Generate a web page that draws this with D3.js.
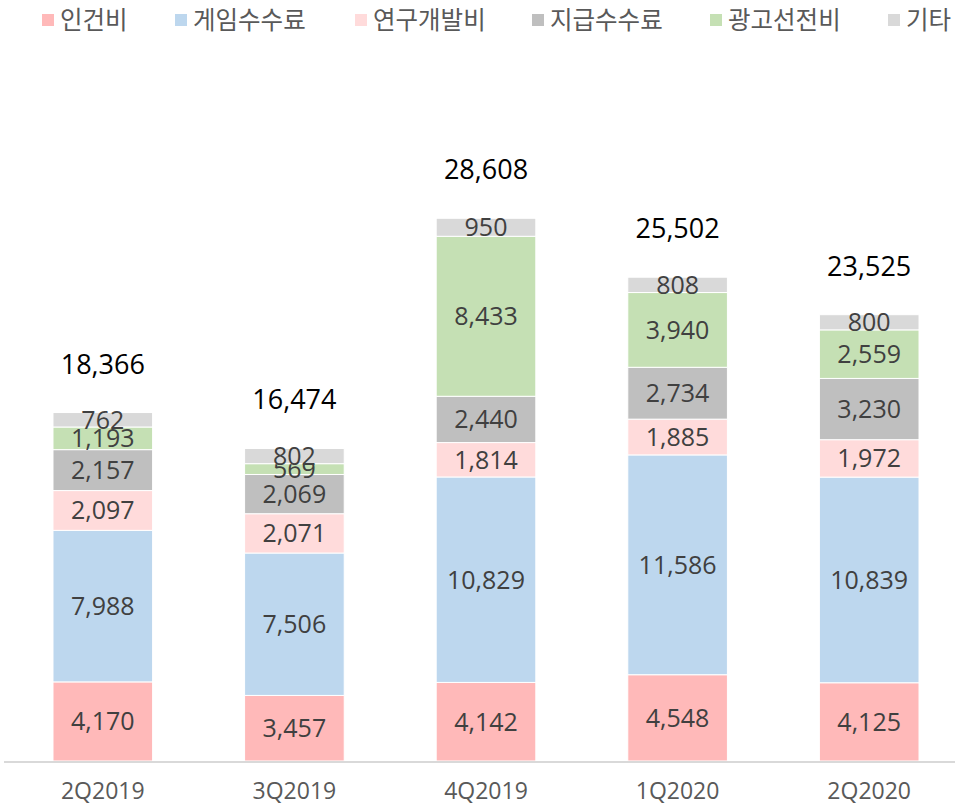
<!DOCTYPE html>
<html>
<head>
<meta charset="utf-8">
<script src="https://cdn.jsdelivr.net/npm/d3@7"></script>
<style>
  body { margin: 0; background: #fff; }
  svg text { font-family: "Open Sans", "Noto Sans CJK KR", sans-serif; }
</style>
</head>
<body>
<div id="chart"></div>
<script>
var quarters = ["2Q2019", "3Q2019", "4Q2019", "1Q2020", "2Q2020"];
var seriesNames = ["인건비", "게임수수료", "연구개발비", "지급수수료", "광고선전비", "기타"];
var labor = [4170, 3457, 4142, 4548, 4125];
var gameFees = [7988, 7506, 10829, 11586, 10839];
var rnd = [2097, 2071, 1814, 1885, 1972];
var payFees = [2157, 2069, 2440, 2734, 3230];
var ads = [1193, 569, 8433, 3940, 2559];
var others = [762, 802, 950, 808, 800];
var totals = [18366, 16474, 28608, 25502, 23525];

var colors = ["#FFB9B9", "#BDD7EE", "#FFDBDB", "#BFBFBF", "#C5E0B4", "#D9D9D9"];
var seriesValues = [labor, gameFees, rnd, payFees, ads, others];

var width = 955, height = 807;
var svg = d3.select("#chart").append("svg")
  .attr("width", width)
  .attr("height", height);

var table = quarters.map(function(q, i) {
  var row = {quarter: q};
  seriesNames.forEach(function(s, j) { row[s] = seriesValues[j][i]; });
  return row;
});
var stacked = d3.stack().keys(seriesNames)(table);

var x = d3.scaleBand()
  .domain(quarters)
  .range([7, 965])
  .paddingInner(0.48)
  .paddingOuter(0.24);

var y = d3.scaleLinear()
  .domain([0, 35000])
  .range([761, 97]);

var fmt = d3.format(",");

// bars
var layers = svg.selectAll("g.layer")
  .data(stacked)
  .enter().append("g")
    .attr("class", "layer")
    .attr("fill", function(d, i) { return colors[i]; });

layers.selectAll("rect")
  .data(function(d) { return d; })
  .enter().append("rect")
    .attr("x", function(d) { return x(d.data.quarter); })
    .attr("y", function(d) { return y(d[1]); })
    .attr("width", x.bandwidth())
    .attr("height", function(d) { return y(d[0]) - y(d[1]); })
    .attr("stroke", "#fff")
    .attr("stroke-width", 1);

// segment labels
layers.selectAll("text")
  .data(function(d) { return d; })
  .enter().append("text")
    .attr("x", function(d) { return x(d.data.quarter) + x.bandwidth() / 2; })
    .attr("y", function(d) { return (y(d[0]) + y(d[1])) / 2; })
    .attr("dy", "0.36em")
    .attr("text-anchor", "middle")
    .style("font-size", "25px")
    .style("fill", "#404040")
    .text(function(d) { return fmt(d[1] - d[0]); });

// totals
svg.selectAll("text.total")
  .data(quarters)
  .enter().append("text")
    .attr("class", "total")
    .attr("x", function(d) { return x(d) + x.bandwidth() / 2; })
    .attr("y", function(d, i) { return y(totals[i]) - 39; })
    .attr("text-anchor", "middle")
    .style("font-size", "27px")
    .style("fill", "#000")
    .text(function(d, i) { return fmt(totals[i]); });

// x axis
var xAxis = svg.append("g")
  .attr("transform", "translate(0,762)")
  .call(d3.axisBottom(x).tickSize(0).tickPadding(21));
xAxis.select(".domain")
  .attr("stroke", "#D9D9D9")
  .attr("stroke-width", 2)
  .attr("d", "M4,0H955");
xAxis.selectAll("text")
  .style("font-size", "23px")
  .style("fill", "#595959")
  .style("font-family", "'Open Sans', sans-serif");

// legend
var legendX = [42, 175, 355, 532, 710, 888];
var legend = svg.selectAll("g.legend")
  .data(seriesNames)
  .enter().append("g")
    .attr("class", "legend")
    .attr("transform", function(d, i) { return "translate(" + legendX[i] + ",20)"; });
legend.append("rect")
  .attr("x", 0)
  .attr("y", -6)
  .attr("width", 12)
  .attr("height", 12)
  .attr("fill", function(d, i) { return colors[i]; });
legend.append("text")
  .attr("x", 18)
  .attr("y", 0)
  .attr("dy", "0.36em")
  .style("font-size", "24.5px")
  .style("fill", "#595959")
  .style("font-family", "'Noto Sans CJK KR', sans-serif")
  .text(function(d) { return d; });
</script>
</body>
</html>
